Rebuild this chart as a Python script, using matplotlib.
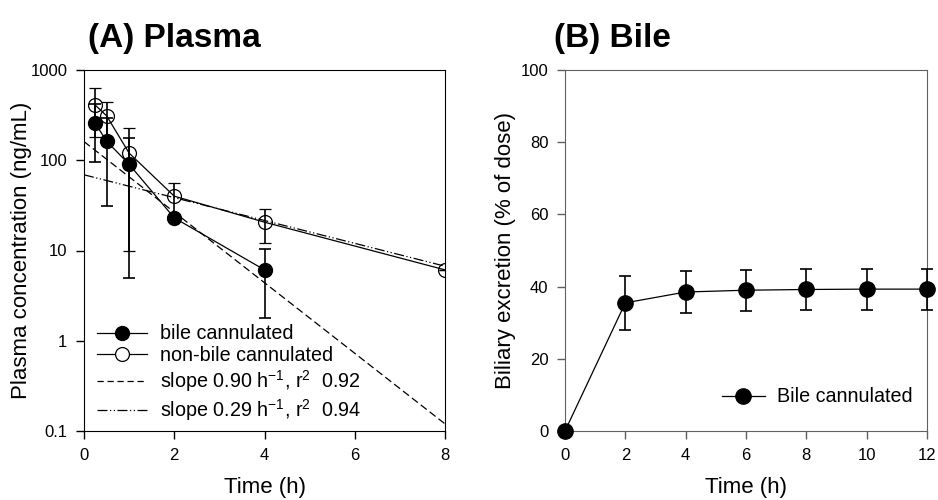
import matplotlib

matplotlib.use("Agg")
import matplotlib.pyplot as plt
from matplotlib.lines import Line2D

plt.rcParams["font.family"] = ["Liberation Sans", "DejaVu Sans"]
plt.rcParams["mathtext.fontset"] = "custom"
plt.rcParams["mathtext.rm"] = "Liberation Sans"
plt.rcParams["mathtext.it"] = "Liberation Sans:italic"

# (A) plasma concentration, ng/mL
t_bile = [0.25, 0.5, 1, 2, 4]
conc_bile = [256, 163, 90, 23, 6.1]
sd_bile = [160, 132, 85, 2, 4.3]

t_nonbile = [0.25, 0.5, 1, 2, 4, 8]
conc_nonbile = [408, 311, 120, 40, 20.6, 6.1]
sd_nonbile = [226, 133, 110, 16, 8.5, 0]

# terminal-phase regression lines (end points)
fit_t = [0, 8]
fit_fast = [161, 0.12]
fit_slow = [69, 6.7]

# (B) cumulative biliary excretion, % of dose
t_excr = [0, 2, 4, 6, 8, 10, 12]
excr = [0, 35.5, 38.5, 39.0, 39.2, 39.3, 39.3]
sd_excr = [0, 7.4, 5.8, 5.7, 5.7, 5.7, 5.7]

TICK_FS = 12
LABEL_FS = 16
TITLE_FS = 24
LEGEND_FS = 14.2

fig = plt.figure(figsize=(9.38, 5.0), dpi=100)
ax1 = fig.add_axes([84 / 938, 69 / 500, 361 / 938, 361 / 500])
ax2 = fig.add_axes([565 / 938, 69 / 500, 362 / 938, 361 / 500])

# ---- panel A
ax1.plot(fit_t, fit_fast, color="black", lw=0.9, dashes=(6, 3), zorder=1)
ax1.plot(fit_t, fit_slow, color="black", lw=0.9, dashes=(8, 2, 1, 2, 1, 2), zorder=1)
ax1.errorbar(t_nonbile, conc_nonbile, yerr=sd_nonbile, color="black", lw=0.9,
             marker="o", ms=10, mfc="none", mec="black", mew=0.9,
             ecolor="black", elinewidth=1.2, capsize=4.3, capthick=1.2, zorder=2)
ax1.errorbar(t_bile, conc_bile, yerr=sd_bile, color="black", lw=0.9,
             marker="o", ms=10, mfc="black", mec="black",
             ecolor="black", elinewidth=1.2, capsize=4.3, capthick=1.2, zorder=3)

ax1.set_yscale("log")
ax1.set_xlim(0, 8)
ax1.set_ylim(0.1, 1000)
ax1.set_xticks([0, 2, 4, 6, 8])
ax1.set_yticks([0.1, 1, 10, 100, 1000])
ax1.set_yticklabels(["0.1", "1", "10", "100", "1000"])
ax1.minorticks_off()
ax1.tick_params(direction="out", length=6, width=1, labelsize=TICK_FS, pad=6)
ax1.set_xlabel("Time (h)", fontsize=LABEL_FS, labelpad=10)
ax1.set_ylabel("Plasma concentration (ng/mL)", fontsize=LABEL_FS, labelpad=-1)
ax1.text(0.01, 1.043, "(A) Plasma", transform=ax1.transAxes, fontsize=TITLE_FS,
         fontweight="bold", va="bottom", ha="left")

handles = [
    Line2D([], [], color="black", lw=0.9, marker="o", ms=10, mfc="black", mec="black"),
    Line2D([], [], color="black", lw=0.9, marker="o", ms=10, mfc="white", mec="black", mew=0.9),
    Line2D([], [], color="black", lw=0.9, dashes=(5, 3)),
    Line2D([], [], color="black", lw=0.9, dashes=(8, 2, 1, 2, 1, 2)),
]
labels = [
    "bile cannulated",
    "non-bile cannulated",
    r"slope 0.90 h$^{\mathregular{-1}}$, r$^{\mathregular{2}}$  0.92",
    r"slope 0.29 h$^{\mathregular{-1}}$, r$^{\mathregular{2}}$  0.94",
]
ax1.legend(handles, labels, loc="lower left", bbox_to_anchor=(0.014, 0.0),
           frameon=False, fontsize=LEGEND_FS, handlelength=2.55, handletextpad=0.66,
           labelspacing=0.15, borderaxespad=0.0)

# ---- panel B
ax2.errorbar(t_excr, excr, yerr=sd_excr, color="black", lw=0.9,
             marker="o", ms=11, mfc="black", mec="black",
             ecolor="black", elinewidth=1.2, capsize=4.3, capthick=1.2,
             clip_on=False, zorder=3)
ax2.set_xlim(0, 12)
ax2.set_ylim(0, 100)
ax2.set_xticks(range(0, 13, 2))
ax2.set_yticks(range(0, 101, 20))
for sp in ax2.spines.values():
    sp.set_color("#606060")
ax2.tick_params(direction="out", length=6, width=1, color="#606060",
                labelsize=TICK_FS, pad=6)
ax2.set_xlabel("Time (h)", fontsize=LABEL_FS, labelpad=10)
ax2.set_ylabel("Biliary excretion (% of dose)", fontsize=LABEL_FS, labelpad=3)
ax2.text(-0.03, 1.043, "(B) Bile", transform=ax2.transAxes, fontsize=TITLE_FS,
         fontweight="bold", va="bottom", ha="left")
bile_handle = Line2D([], [], color="black", lw=0.9, marker="o", ms=11,
                     mfc="black", mec="black")
ax2.legend([bile_handle], ["Bile cannulated"], loc="lower right",
           bbox_to_anchor=(1.0, 0.028), frameon=False, fontsize=LEGEND_FS,
           handlelength=2.2, handletextpad=0.6, borderaxespad=0.33)

fig.savefig("out.png", dpi=100)
plt.close(fig)
